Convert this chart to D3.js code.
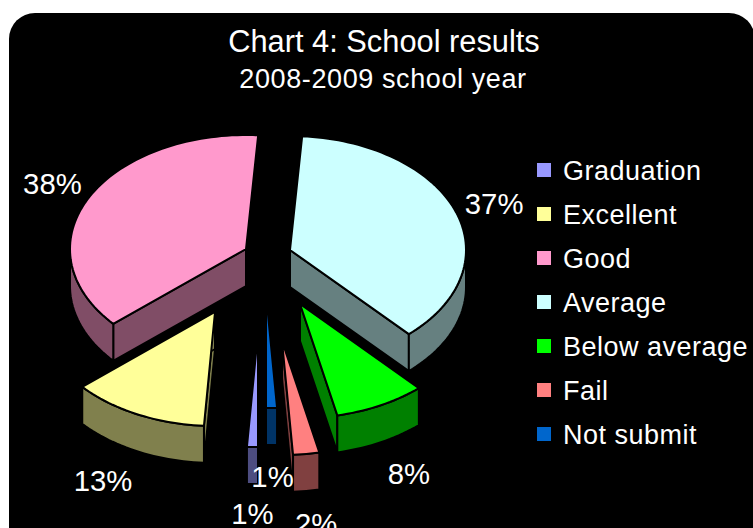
<!DOCTYPE html>
<html>
<head>
<meta charset="utf-8">
<script src="https://cdn.jsdelivr.net/npm/d3@7"></script>
<style>
  html, body { margin: 0; padding: 0; background: #fff; overflow: hidden; }
  svg { display: block; }
  text { font-family: "Liberation Sans", Arial, sans-serif; fill: #fff; }
</style>
</head>
<body>
<svg id="chart" width="753" height="528"></svg>
<script>
var categories = ['Graduation', 'Excellent', 'Good', 'Average', 'Below average', 'Fail', 'Not submit'];
var values = [1, 12.6, 37.5, 37.1, 8.4, 2.4, 1];
var colors = ['#9999FF', '#FFFF99', '#FF99CC', '#CCFFFF', '#00FF00', '#FF8080', '#0066CC'];

// how far each slice is pulled out of the pie, and where its label sits off the rim
var pull = [[-10, 77], [-53, 56], [-22, -7], [22, -6], [32, 48], [14, 85], [-2, 38]];
var labelNudge = [[0, 67], [-34, 67], [-36, -14], [38, -8], [28, 69], [10, 70], [1, 69]];

var width = 753, height = 528;
var cx = 268, cy = 256, rx = 176, ry = 114, depth = 37;
var startDeg = 180;

var svg = d3.select('#chart');

svg.append('rect')
    .attr('x', 9).attr('y', 13)
    .attr('width', 746).attr('height', height + 40)
    .attr('rx', 26).attr('ry', 26)
    .attr('fill', '#000');

svg.append('text')
    .attr('x', 384).attr('y', 52)
    .attr('text-anchor', 'middle')
    .style('font-size', '30.8px')
    .text('Chart 4: School results');

svg.append('text')
    .attr('x', 383).attr('y', 88)
    .attr('text-anchor', 'middle')
    .style('font-size', '27px')
    .style('letter-spacing', '0.6px')
    .text('2008-2009 school year');

var pie = d3.pie()
    .sort(null)
    .startAngle(startDeg * Math.PI / 180)
    .endAngle(startDeg * Math.PI / 180 + 2 * Math.PI);

var arcs = pie(values).map(function(d, i) {
  return {
    i: i,
    a0: d.startAngle,
    a1: d.endAngle,
    mid: (d.startAngle + d.endAngle) / 2,
    ox: cx + pull[i][0],
    oy: cy + pull[i][1]
  };
});

function rim(d, a) {
  return [d.ox + rx * Math.sin(a), d.oy - ry * Math.cos(a)];
}

function rimPoints(d, a0, a1) {
  var n = Math.max(2, Math.ceil((a1 - a0) / 0.03));
  return d3.range(n + 1).map(function(k) {
    return rim(d, a0 + (a1 - a0) * k / n);
  });
}

function down(p) { return [p[0], p[1] + depth]; }

var line = d3.line().curve(d3.curveLinear);
function closed(pts) { return line(pts) + 'Z'; }

function shade(c) {
  var r = d3.rgb(c);
  return d3.rgb(r.r * 0.5, r.g * 0.5, r.b * 0.5).formatHex();
}

// the part of the rim facing the viewer is the lower half of the ellipse
function frontWall(d) {
  var tau = 2 * Math.PI, parts = [];
  [-tau, 0, tau].forEach(function(shift) {
    var a = Math.max(d.a0, Math.PI / 2 + shift);
    var b = Math.min(d.a1, 3 * Math.PI / 2 + shift);
    if (b > a) parts.push([a, b]);
  });
  return parts;
}

// far slices first
var order = arcs.slice().sort(function(p, q) {
  return (-Math.cos(p.mid)) - (-Math.cos(q.mid));
});

var slices = svg.selectAll('g.slice')
    .data(order)
    .enter().append('g')
    .attr('class', 'slice')
    .attr('stroke', '#000')
    .attr('stroke-width', 2)
    .attr('stroke-linejoin', 'round');

slices.each(function(d) {
  var g = d3.select(this);
  var dark = shade(colors[d.i]);
  var apex = [d.ox, d.oy];

  [d.a0, d.a1].forEach(function(a) {
    // edges pointing straight back show no wall in this view
    if (Math.cos(a) > 0.9) return;
    var p = rim(d, a);
    g.append('path')
        .attr('d', closed([apex, p, down(p), down(apex)]))
        .attr('fill', dark);
  });

  frontWall(d).forEach(function(part) {
    var top = rimPoints(d, part[0], part[1]);
    var bottom = top.map(down).reverse();
    g.append('path')
        .attr('d', closed(top.concat(bottom)))
        .attr('fill', dark);
  });

  g.append('path')
      .attr('d', closed([apex].concat(rimPoints(d, d.a0, d.a1))))
      .attr('fill', colors[d.i]);
});

svg.selectAll('text.pct')
    .data(arcs)
    .enter().append('text')
    .attr('class', 'pct')
    .attr('x', function(d) { return rim(d, d.mid)[0] + labelNudge[d.i][0]; })
    .attr('y', function(d) { return rim(d, d.mid)[1] + labelNudge[d.i][1] + 10; })
    .attr('text-anchor', 'middle')
    .style('font-size', '29.3px')
    .text(function(d) { return Math.round(values[d.i]) + '%'; });

var legendY = d3.scalePoint()
    .domain(categories)
    .range([170, 434]);

var legend = svg.selectAll('g.legend')
    .data(categories)
    .enter().append('g')
    .attr('class', 'legend')
    .attr('transform', function(d) { return 'translate(537,' + legendY(d) + ')'; });

legend.append('rect')
    .attr('x', 0).attr('y', -7)
    .attr('width', 14).attr('height', 14)
    .attr('fill', function(d, i) { return colors[i]; });

legend.append('text')
    .attr('x', 26).attr('y', 10)
    .style('font-size', '27px')
    .style('letter-spacing', '0.5px')
    .text(function(d) { return d; });
</script>
</body>
</html>
